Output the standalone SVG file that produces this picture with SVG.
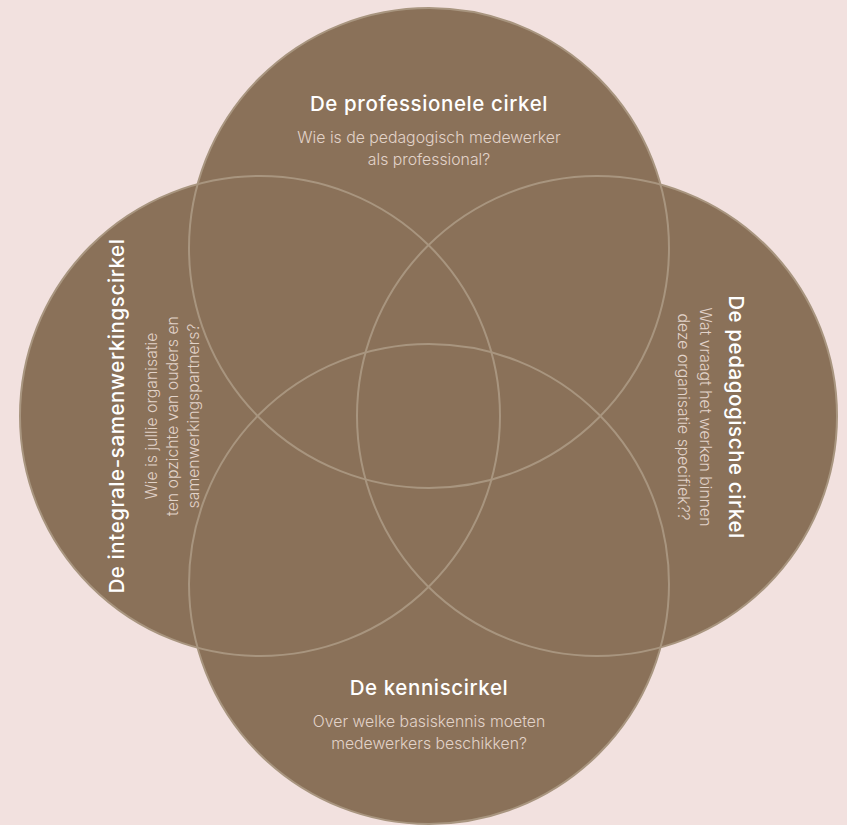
<svg xmlns="http://www.w3.org/2000/svg" width="847" height="825" viewBox="0 0 847 825">
<style>
.fill{fill:#8A7159;stroke:none}
.ring{fill:none;stroke:#A8957F;stroke-width:2}
.title{font-family:Inter,"Noto Sans",sans-serif;font-size:20.5px;font-weight:500;letter-spacing:0.6px;fill:#FFFFFF;text-anchor:middle}
.body{font-family:Inter,"Noto Sans",sans-serif;font-size:15.8px;font-weight:300;fill:#E2D3C9;text-anchor:middle}
</style>
<rect width="847" height="825" fill="#F2E1DF"/>
<g id="fills">
<circle class="fill" cx="429" cy="248" r="240"/>
<circle class="fill" cx="429" cy="584" r="240"/>
<circle class="fill" cx="260" cy="416" r="240"/>
<circle class="fill" cx="597" cy="416" r="240"/>
</g>
<g id="connectors">
<circle class="ring" cx="429" cy="248" r="240"/>
<circle class="ring" cx="429" cy="584" r="240"/>
<circle class="ring" cx="260" cy="416" r="240"/>
<circle class="ring" cx="597" cy="416" r="240"/>
</g>
<g id="professionele">
<text class="title" x="429" y="111">De professionele cirkel</text>
<text class="body" x="429" y="143">Wie is de pedagogisch medewerker</text>
<text class="body" x="429" y="165">als professional?</text>
</g>
<g id="kennis">
<text class="title" x="429" y="695">De kenniscirkel</text>
<text class="body" x="429" y="727">Over welke basiskennis moeten</text>
<text class="body" x="429" y="749">medewerkers beschikken?</text>
</g>
<g id="integrale" transform="translate(0,416) rotate(-90)">
<text class="title" x="0" y="124">De integrale-samenwerkingscirkel</text>
<text class="body" x="0" y="157">Wie is jullie organisatie</text>
<text class="body" x="0" y="178">ten opzichte van ouders en</text>
<text class="body" x="0" y="199">samenwerkingspartners?</text>
</g>
<g id="pedagogische" transform="translate(847,417) rotate(90)">
<text class="title" x="0" y="118">De pedagogische cirkel</text>
<text class="body" x="0" y="147">Wat vraagt het werken binnen</text>
<text class="body" x="0" y="169">deze organisatie specifiek??</text>
</g>
</svg>
